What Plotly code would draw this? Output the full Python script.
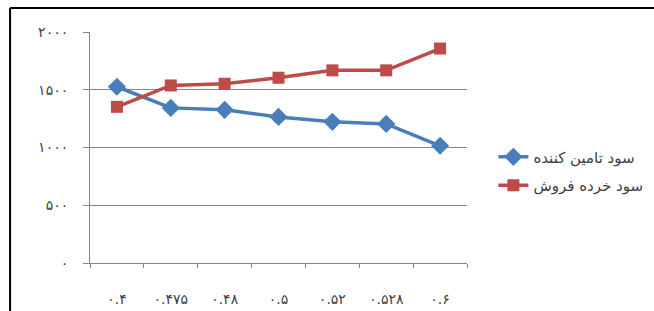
import plotly.graph_objects as go

categories = ["۰.۴", "۰.۴۷۵", "۰.۴۸", "۰.۵", "۰.۵۲", "۰.۵۲۸", "۰.۶"]
supplier_profit = [1526, 1343, 1326, 1265, 1222, 1204, 1015]
retailer_profit = [1352, 1537, 1552, 1604, 1668, 1668, 1857]
supplier_name = "سود تامین کننده"
retailer_name = "سود خرده فروش"
y_tickvals = [0, 500, 1000, 1500, 2000]
y_ticktext = ["۰", "۵۰۰", "۱۰۰۰", "۱۵۰۰", "۲۰۰۰"]

FONT = "DejaVu Sans, Noto Sans, sans-serif"

fig = go.Figure()
fig.add_trace(go.Scatter(
    x=categories, y=supplier_profit, name=supplier_name, mode="lines+markers",
    line=dict(color="#4A7EBB", width=3.5),
    marker=dict(symbol="diamond", size=14, color="#4A7EBB"),
    legendgroup="a",
))
fig.add_trace(go.Scatter(
    x=categories, y=retailer_profit, name=retailer_name, mode="lines+markers",
    line=dict(color="#BE4B48", width=3.5),
    marker=dict(symbol="square", size=12, color="#BE4B48"),
    legendgroup="b",
))

fig.update_layout(
    width=654, height=311,
    margin=dict(l=90, r=187, t=32, b=48, autoexpand=False),
    paper_bgcolor="white", plot_bgcolor="white",
    font=dict(family=FONT, size=14, color="#404040"),
    legend=dict(x=1.07, xanchor="left", y=0.53, yanchor="top",
                tracegroupgap=6, font=dict(size=15, color="#404040"),
                bgcolor="rgba(0,0,0,0)"),
    xaxis=dict(
        type="category", range=[-0.5, 6.5], tickson="boundaries",
        showline=True, linecolor="#868686", linewidth=1,
        ticks="outside", ticklen=4, tickcolor="#868686",
        showgrid=False, ticklabelstandoff=23, automargin=False,
        tickfont=dict(size=14, color="#404040"),
    ),
    yaxis=dict(
        range=[0, 2000], tickvals=y_tickvals, ticktext=y_ticktext,
        showline=True, linecolor="#868686", linewidth=1,
        ticks="outside", ticklen=6, tickcolor="#868686",
        showgrid=True, gridcolor="#868686", gridwidth=1,
        zeroline=False, ticklabelstandoff=12, automargin=False,
        tickfont=dict(size=14, color="#404040"),
    ),
    showlegend=True,
)

# outer frame (left and top edges of the original border)
fig.add_shape(type="line", xref="paper", yref="paper",
              x0=-0.212, x1=1.5, y0=1.104, y1=1.104,
              line=dict(color="black", width=2))
fig.add_shape(type="line", xref="paper", yref="paper",
              x0=-0.212, x1=-0.212, y0=-0.3, y1=1.104,
              line=dict(color="black", width=2))

fig.write_html("out.html", config={"displayModeBar": False},
               post_script="document.body.style.margin='0';")
